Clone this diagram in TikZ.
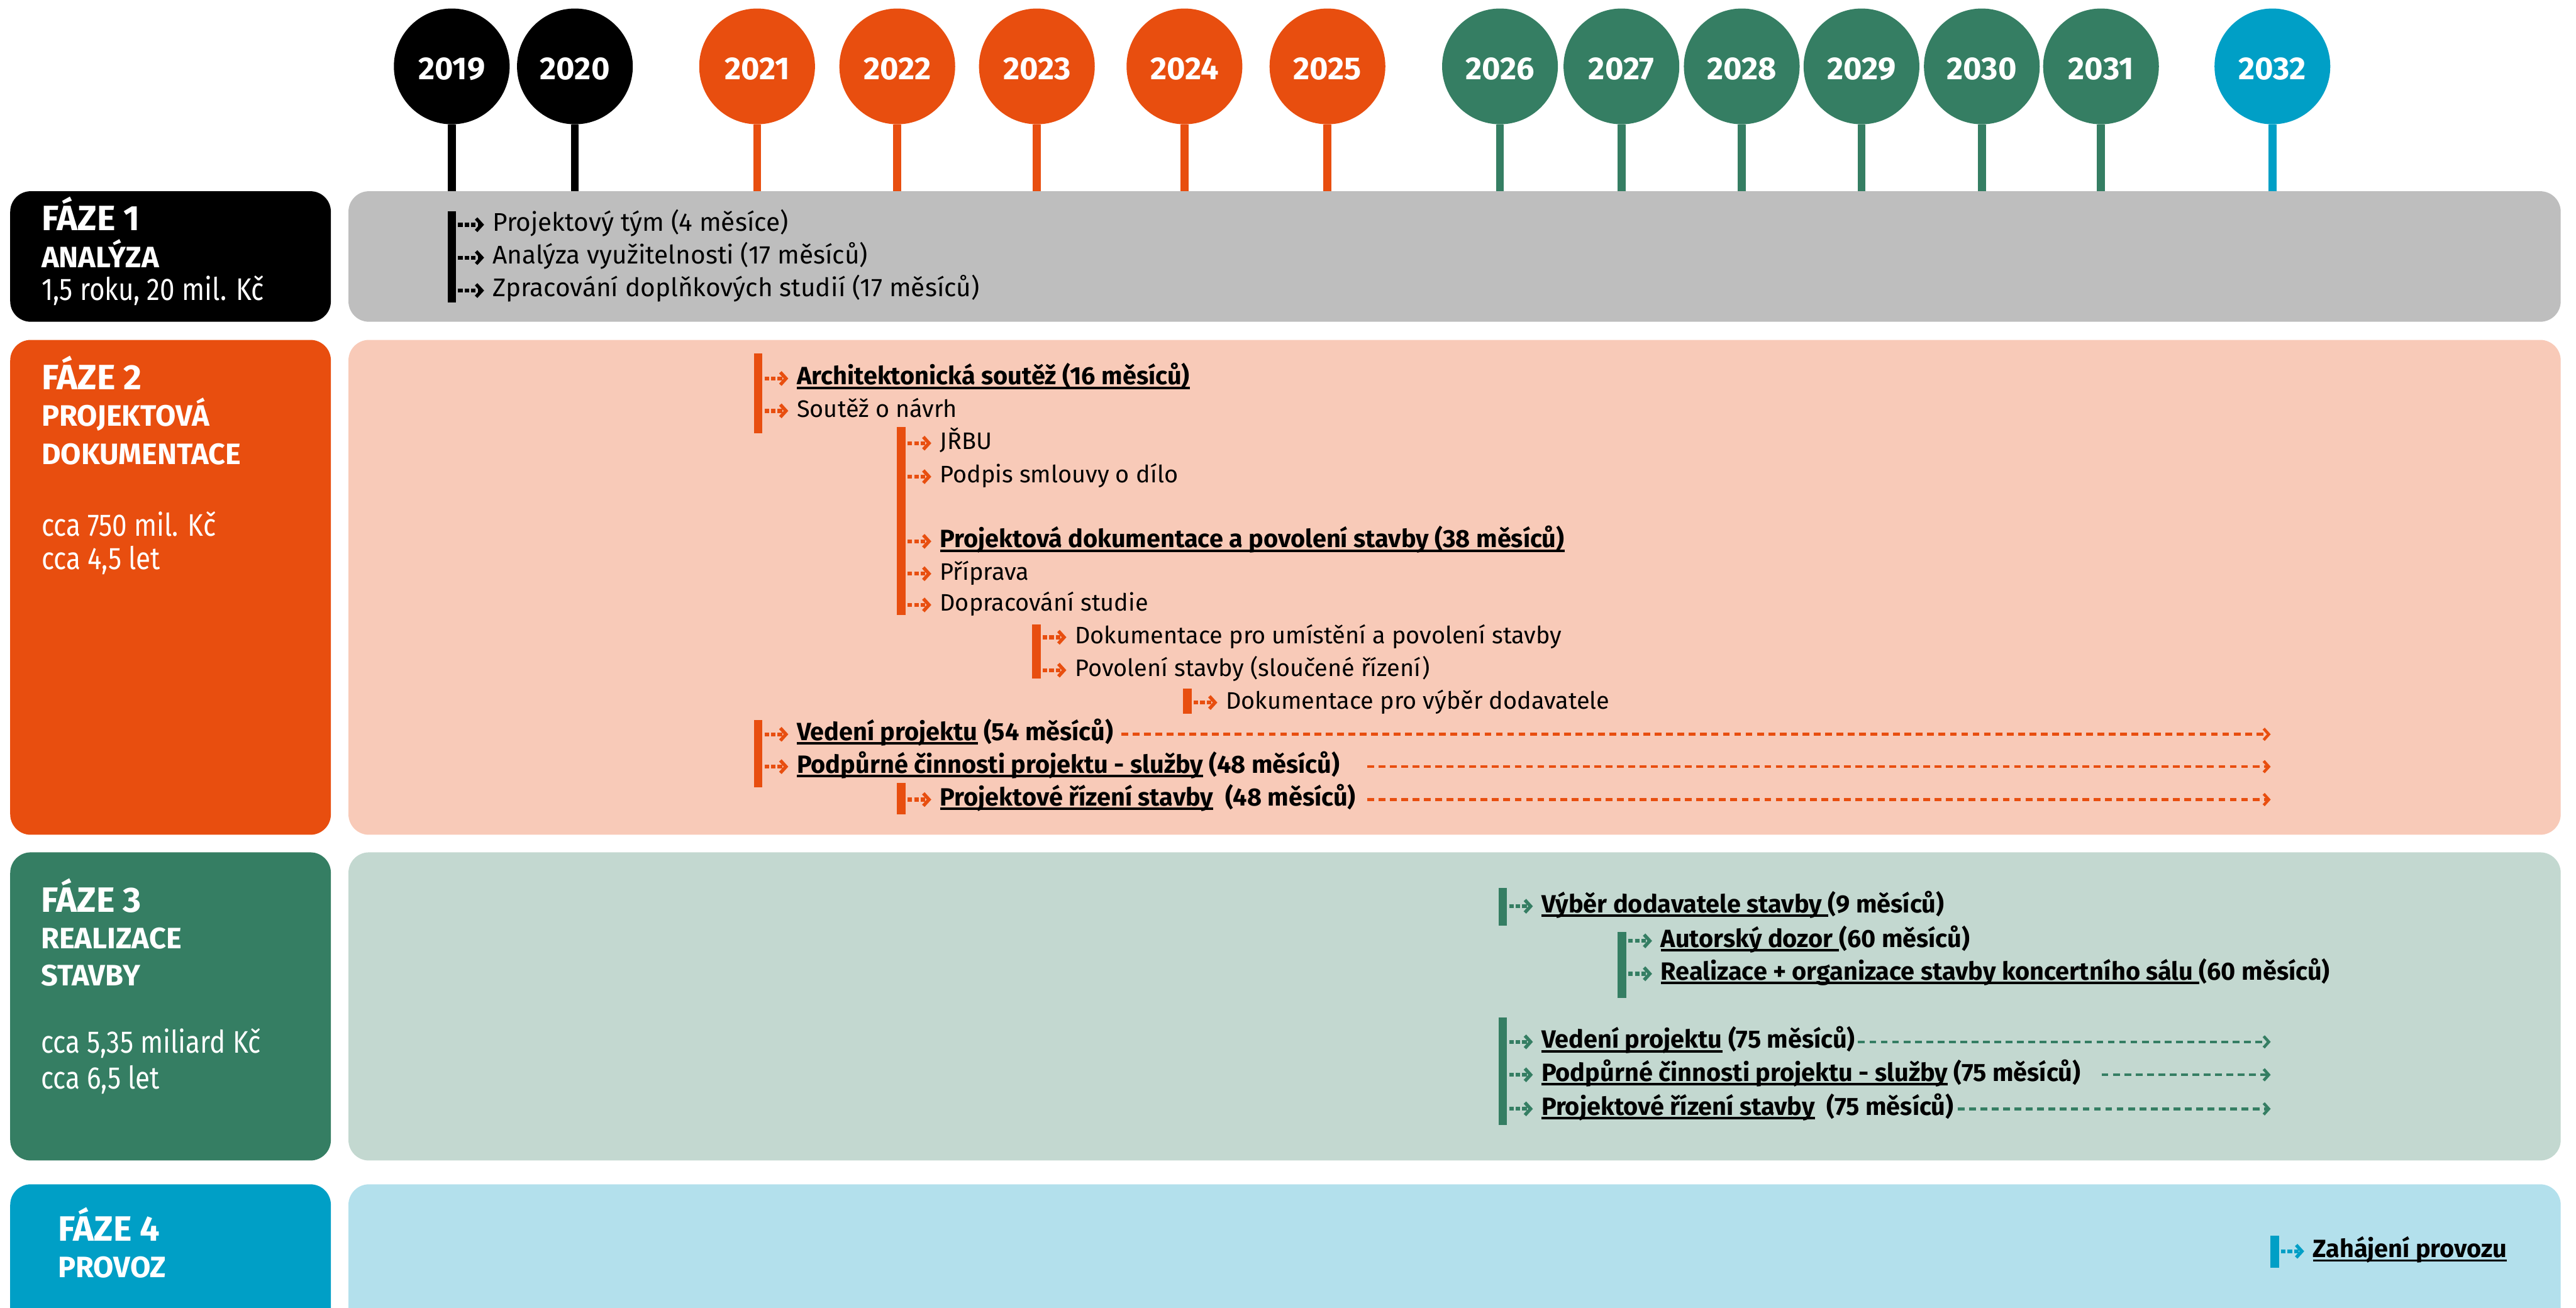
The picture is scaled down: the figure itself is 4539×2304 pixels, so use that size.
\documentclass[tikz,border=0pt]{standalone}
\usepackage{fontspec}
\setmainfont{Fira Sans}
\newfontfamily\headfont{Fira Sans}[FakeStretch=0.85]
\usetikzlibrary{arrows.meta,positioning}

\definecolor{phorange}{HTML}{E84E0F}
\definecolor{phgreen}{HTML}{357E63}
\definecolor{phblue}{HTML}{009FC6}
\definecolor{lgray}{HTML}{BEBEBE}
\definecolor{lorange}{HTML}{F8CAB8}
\definecolor{lgreen}{HTML}{C3D8D0}
\definecolor{lblue}{HTML}{B3E0EC}

\newsavebox\ulbox
\newcommand\undl[1]{\sbox\ulbox{#1}\rlap{\rule[-0.17em]{\wd\ulbox}{0.1em}}\usebox\ulbox}

\begin{document}
\begin{tikzpicture}[x=1pt,y=-1pt,
  yearball/.style={circle,minimum size=204pt,inner sep=0pt,text=white,text height=46pt,text depth=0pt,
    font=\bfseries\fontsize{56}{60}\selectfont},
  stem/.style={line width=14pt},
  lbox/.style={rounded corners=36pt,minimum width=565pt,inner sep=0pt},
  rbox/.style={rounded corners=36pt,minimum width=3898pt,inner sep=0pt},
  phead/.style={anchor=base west,inner sep=0pt,text=white,font=\bfseries\fontsize{62}{70}\selectfont},
  pname/.style={phead,font=\bfseries\fontsize{52}{60}\selectfont},
  pinfo/.style={phead,font=\headfont\fontsize{55}{60}\selectfont},
  vbar/.style={minimum width=15pt,inner sep=0pt},
  item/.style={anchor=base west,inner sep=0pt,text height=32pt,text depth=10pt,font=\fontsize{42}{50}\selectfont},
  bitem/.style={item,font=\bfseries\fontsize{44}{50}\selectfont},
  tickarr/.style={line width=7pt,dash pattern=on 8pt off 3.5pt,shorten <=3.5pt,shorten >=15pt,
    -{Straight Barb[length=10pt,width=22pt,line width=6pt]}},
  trail/.style={line width=5pt,dash pattern=on 12pt off 8pt,
    -{Straight Barb[length=9pt,width=20pt,line width=5pt]}}]
  \useasboundingbox (0,0) rectangle (4539,2304);

  % phase rows
  \node[lbox,fill=black,minimum height=230pt]    (p1l) at (300.5,452) {};
  \node[rbox,fill=lgray,minimum height=230pt]    (p1r) at (2563,452) {};
  \node[lbox,fill=phorange,minimum height=872pt] (p2l) at (300.5,1035) {};
  \node[rbox,fill=lorange,minimum height=872pt]  (p2r) at (2563,1035) {};
  \node[lbox,fill=phgreen,minimum height=543pt]  (p3l) at (300.5,1773.5) {};
  \node[rbox,fill=lgreen,minimum height=543pt]   (p3r) at (2563,1773.5) {};
  \node[lbox,fill=phblue,minimum height=313pt]   (p4l) at (300.5,2243.5) {};
  \node[rbox,fill=lblue,minimum height=313pt]    (p4r) at (2563,2243.5) {};

  \node[phead] (ph1) at (73,406)  {FÁZE 1};
  \node[pname] (pn1) at (73,471)  {ANALÝZA};
  \node[pinfo] (pi1) at (73,529)  {1,5 roku, 20 mil. Kč};
  \node[phead] (ph2) at (73,687)  {FÁZE 2};
  \node[pname] (pn2) at (73,751)  {PROJEKTOVÁ};
  \node[pname] (pm2) at (73,818)  {DOKUMENTACE};
  \node[pinfo] (pi2) at (73,945)  {cca 750 mil. Kč};
  \node[pinfo] (pj2) at (73,1003) {cca 4,5 let};
  \node[phead] (ph3) at (72,1607) {FÁZE 3};
  \node[pname] (pn3) at (72,1672) {REALIZACE};
  \node[pname] (pm3) at (72,1737) {STAVBY};
  \node[pinfo] (pi3) at (72,1856) {cca 5,35 miliard Kč};
  \node[pinfo] (pj3) at (72,1919) {cca 6,5 let};
  \node[phead] (ph4) at (102,2187) {FÁZE 4};
  \node[pname] (pn4) at (102,2251) {PROVOZ};

  % years
  \node[yearball,fill=black]    (y2019) at (796,117)  {2019};
  \node[yearball,fill=black]    (y2020) at (1013,117) {2020};
  \node[yearball,fill=phorange] (y2021) at (1334,117) {2021};
  \node[yearball,fill=phorange] (y2022) at (1581,117) {2022};
  \node[yearball,fill=phorange] (y2023) at (1827,117) {2023};
  \node[yearball,fill=phorange] (y2024) at (2087,117) {2024};
  \node[yearball,fill=phorange] (y2025) at (2339,117) {2025};
  \node[yearball,fill=phgreen]  (y2026) at (2643,117) {2026};
  \node[yearball,fill=phgreen]  (y2027) at (2857,117) {2027};
  \node[yearball,fill=phgreen]  (y2028) at (3069,117) {2028};
  \node[yearball,fill=phgreen]  (y2029) at (3280,117) {2029};
  \node[yearball,fill=phgreen]  (y2030) at (3492,117) {2030};
  \node[yearball,fill=phgreen]  (y2031) at (3702,117) {2031};
  \node[yearball,fill=phblue]   (y2032) at (4004,117) {2032};

  \path[stem]
    (y2019.south) edge[draw=black]    (y2019.south |- p1r.north)
    (y2020.south) edge[draw=black]    (y2020.south |- p1r.north)
    (y2021.south) edge[draw=phorange] (y2021.south |- p1r.north)
    (y2022.south) edge[draw=phorange] (y2022.south |- p1r.north)
    (y2023.south) edge[draw=phorange] (y2023.south |- p1r.north)
    (y2024.south) edge[draw=phorange] (y2024.south |- p1r.north)
    (y2025.south) edge[draw=phorange] (y2025.south |- p1r.north)
    (y2026.south) edge[draw=phgreen]  (y2026.south |- p1r.north)
    (y2027.south) edge[draw=phgreen]  (y2027.south |- p1r.north)
    (y2028.south) edge[draw=phgreen]  (y2028.south |- p1r.north)
    (y2029.south) edge[draw=phgreen]  (y2029.south |- p1r.north)
    (y2030.south) edge[draw=phgreen]  (y2030.south |- p1r.north)
    (y2031.south) edge[draw=phgreen]  (y2031.south |- p1r.north)
    (y2032.south) edge[draw=phblue]   (y2032.south |- p1r.north);

  % phase 1
  \node[vbar,fill=black,minimum height=161pt] (b11) at (796,452.5) {};
  \node[item,font=\fontsize{45}{50}\selectfont] (t11) at (868,407) {Projektový tým (4 měsíce)};
  \node[item,font=\fontsize{45}{50}\selectfont] (t12) at (868,465) {Analýza využitelnosti (17 měsíců)};
  \node[item,font=\fontsize{45}{50}\selectfont] (t13) at (868,523) {Zpracování doplňkových studií (17 měsíců)};

  % phase 2
  \node[vbar,fill=phorange,minimum height=140pt] (b21) at (1336,693) {};
  \node[vbar,fill=phorange,minimum height=332pt] (b22) at (1588,918) {};
  \node[vbar,fill=phorange,minimum height=96pt]  (b23) at (1826,1148) {};
  \node[vbar,fill=phorange,minimum height=45pt]  (b24) at (2092,1235.5) {};
  \node[vbar,fill=phorange,minimum height=118pt] (b25) at (1336,1328) {};
  \node[vbar,fill=phorange,minimum height=55pt]  (b26) at (1588,1407.5) {};
  \node[bitem] (t21) at (1404,678)  {\undl{Architektonická soutěž (16 měsíců)}};
  \node[item]  (t22) at (1404,735)  {Soutěž o návrh};
  \node[item]  (t23) at (1656,792)  {JŘBU};
  \node[item]  (t24) at (1656,851)  {Podpis smlouvy o dílo};
  \node[bitem] (t25) at (1656,965)  {\undl{Projektová dokumentace a povolení stavby (38 měsíců)}};
  \node[item]  (t26) at (1656,1022) {Příprava};
  \node[item]  (t27) at (1656,1077) {Dopracování studie};
  \node[item]  (t28) at (1894,1134) {Dokumentace pro umístění a povolení stavby};
  \node[item]  (t29) at (1894,1192) {Povolení stavby (sloučené řízení)};
  \node[item]  (t2a) at (2160,1249) {Dokumentace pro výběr dodavatele};
  \node[bitem] (t2b) at (1404,1305) {\undl{Vedení projektu} (54 měsíců)};
  \node[bitem] (t2c) at (1404,1362) {\undl{Podpůrné činnosti projektu - služby} (48 měsíců)};
  \node[bitem] (t2d) at (1656,1420) {\undl{Projektové řízení stavby}\ \ (48 měsíců)};
  \coordinate (s2) at (2409,0);

  % phase 3
  \node[vbar,fill=phgreen,minimum height=66pt]  (b31) at (2648,1598) {};
  \node[vbar,fill=phgreen,minimum height=117pt] (b32) at (2858,1700.5) {};
  \node[vbar,fill=phgreen,minimum height=189pt] (b33) at (2648,1887.5) {};
  \node[bitem] (t31) at (2716,1608) {\undl{Výběr dodavatele stavby }(9 měsíců)};
  \node[bitem] (t32) at (2926,1669) {\undl{Autorský dozor }(60 měsíců)};
  \node[bitem] (t33) at (2926,1727) {\undl{Realizace + organizace stavby koncertního sálu }(60 měsíců)};
  \node[bitem] (t34) at (2716,1847) {\undl{Vedení projektu} (75 měsíců)};
  \node[bitem] (t35) at (2716,1905) {\undl{Podpůrné činnosti projektu - služby} (75 měsíců)};
  \node[bitem] (t36) at (2716,1965) {\undl{Projektové řízení stavby}\ \ (75 měsíců)};
  \coordinate (s3) at (3703,0);

  % phase 4
  \node[vbar,fill=phblue,minimum height=56pt] (b41) at (4008,2206) {};
  \node[bitem] (t41) at (4075,2216) {\undl{Zahájení provozu}};

  \path[tickarr,color=black]
    (b11.east |- t11.west) edge (t11.west)
    (b11.east |- t12.west) edge (t12.west)
    (b11.east |- t13.west) edge (t13.west);
  \path[tickarr,color=phorange]
    (b21.east |- t21.west) edge (t21.west)
    (b21.east |- t22.west) edge (t22.west)
    (b22.east |- t23.west) edge (t23.west)
    (b22.east |- t24.west) edge (t24.west)
    (b22.east |- t25.west) edge (t25.west)
    (b22.east |- t26.west) edge (t26.west)
    (b22.east |- t27.west) edge (t27.west)
    (b23.east |- t28.west) edge (t28.west)
    (b23.east |- t29.west) edge (t29.west)
    (b24.east |- t2a.west) edge (t2a.west)
    (b25.east |- t2b.west) edge (t2b.west)
    (b25.east |- t2c.west) edge (t2c.west)
    (b26.east |- t2d.west) edge (t2d.west);
  \path[tickarr,color=phgreen]
    (b31.east |- t31.west) edge (t31.west)
    (b32.east |- t32.west) edge (t32.west)
    (b32.east |- t33.west) edge (t33.west)
    (b33.east |- t34.west) edge (t34.west)
    (b33.east |- t35.west) edge (t35.west)
    (b33.east |- t36.west) edge (t36.west);
  \path[tickarr,color=phblue]
    (b41.east |- t41.west) edge (t41.west);

  \path[trail,color=phorange,shorten >=3pt]
    (t2b.east) edge[shorten <=14pt] (t2b.east -| y2032)
    (t2c.east -| s2) edge (t2c.east -| y2032)
    (t2d.east -| s2) edge (t2d.east -| y2032);
  \path[trail,color=phgreen,shorten >=3pt]
    (t34.east) edge[shorten <=5pt] (t34.east -| y2032)
    (t35.east -| s3) edge (t35.east -| y2032)
    (t36.east) edge[shorten <=7pt] (t36.east -| y2032);
\end{tikzpicture}
\end{document}
